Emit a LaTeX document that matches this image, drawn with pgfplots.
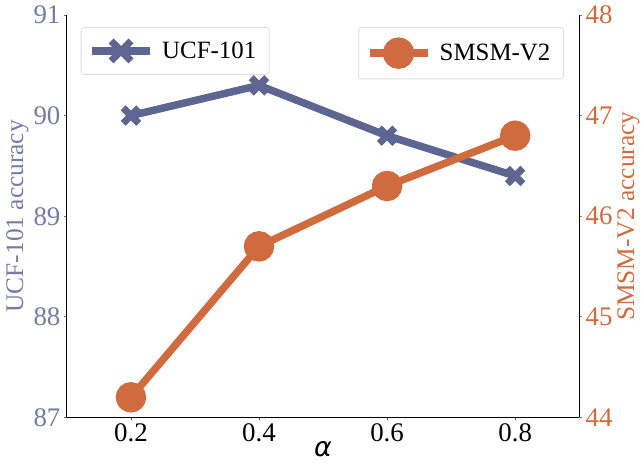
\documentclass[border=0pt]{standalone}
\usepackage{pgfplots}
\pgfplotsset{compat=1.18}
\usepackage{fontspec}
\setmainfont{Liberation Serif}
\newfontfamily\greekfont{DejaVu Sans}
\definecolor{cblue}{HTML}{5D6591}
\definecolor{corange}{HTML}{CF6B3E}
\begin{document}
\begin{tikzpicture}[x=1bp,y=1bp]
\pgfplotsset{
  every axis/.append style={
    scale only axis, width=513bp, height=403bp,
    xmin=0.1, xmax=0.9,
    font=\fontsize{24}{26}\selectfont,
    tick label style={font=\fontsize{27}{28}\selectfont},
    /pgf/number format/assume math mode=true,
    tick align=outside, major tick length=3bp,
    axis line style={line width=0.9bp},
    legend style={draw=black!12, rounded corners=3bp, line width=0.8bp,
      font=\fontsize{25}{27}\selectfont, inner xsep=7bp, inner ysep=10bp,
      legend cell align=left},
  }
}
\begin{axis}[
  ymin=87, ymax=91, ytick={87,88,89,90,91},
  xtick={0.2,0.4,0.6,0.8},
  xticklabels={0.2,0.4,0.6,0.8},
  axis y line*=left, axis x line*=bottom,
  y tick label style={text=cblue!85!white},
  ytick style={cblue, line width=0.8bp},
  xtick style={black!70, line width=0.8bp},
  ylabel={\fontsize{25.5}{27}\selectfont UCF-101 accuracy},
  ylabel style={text=cblue!85!white, yshift=-2bp},
  xlabel={\greekfont\itshape\fontsize{27}{27}\selectfont α},
  xlabel style={yshift=5bp, inner ysep=1bp},
  legend style={at={(0.027,0.97)}, anchor=north west},
  legend image code/.code={
    \draw[line width=8bp] (0bp,0bp) -- (58bp,0bp);
    \draw[line width=7bp, line cap=butt] (19bp,-10bp) -- (39bp,10bp) (19bp,10bp) -- (39bp,-10bp);
  },
]
\addplot[cblue, line width=7.5bp, mark=x, mark size=11bp,
  mark options={line width=7bp, line cap=butt}]
  coordinates {(0.2,90.0) (0.4,90.3) (0.6,89.8) (0.8,89.4)};
\addlegendentry{\ UCF-101\,}
\end{axis}
\begin{axis}[
  ymin=44, ymax=48, ytick={44,45,46,47,48},
  axis y line*=right, axis x line=none,
  y tick label style={text=corange},
  ytick style={corange, line width=0.8bp},
  ylabel={\fontsize{25.5}{27}\selectfont SMSM-V2 accuracy},
  ylabel style={text=corange, yshift=2bp},
  legend style={at={(0.97,0.97)}, anchor=north east},
  legend image code/.code={
    \draw[line width=8bp] (0bp,0bp) -- (58bp,0bp);
    \fill (29bp,0bp) circle (12bp);
  },
]
\addplot[corange, line width=7.5bp, mark=*, mark size=11.5bp]
  coordinates {(0.2,44.2) (0.4,45.7) (0.6,46.3) (0.8,46.8)};
\addlegendentry{\ SMSM-V2\,}
\end{axis}
\path[use as bounding box] (-67bp,-51bp) rectangle (576bp,418bp);
\end{tikzpicture}
\end{document}
